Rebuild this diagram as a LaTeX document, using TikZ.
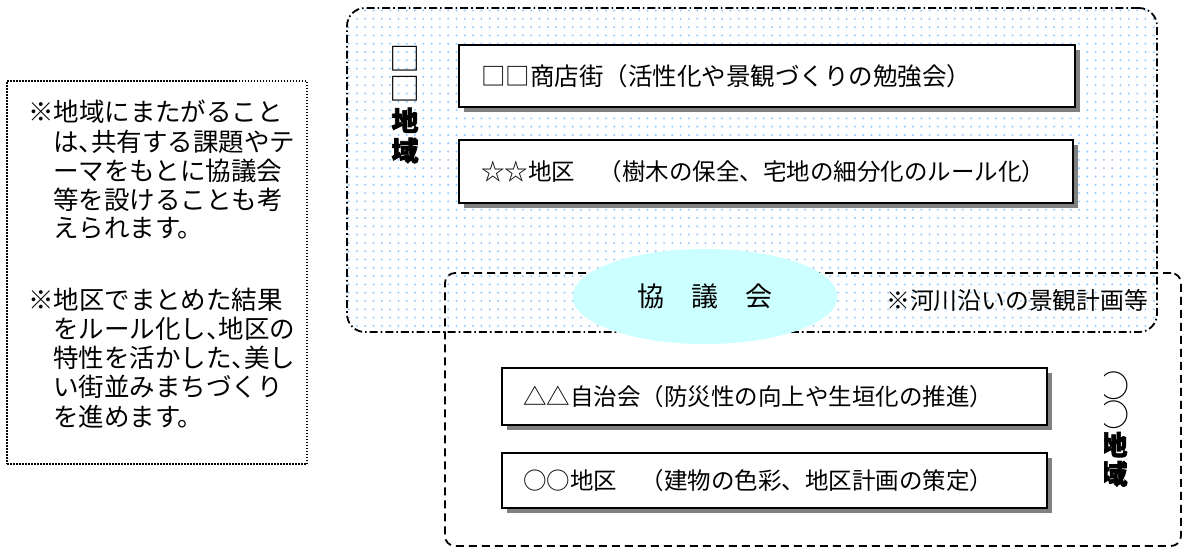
\documentclass[tikz,border=0pt]{standalone}
\usepackage{fontspec}
\newfontfamily\jp{Noto Sans CJK JP}
\newfontfamily\jpheavy[BoldFeatures={FakeBold=2.5}]{Noto Sans CJK JP}
\usetikzlibrary{patterns.meta,shadows,shapes.geometric}
\definecolor{dotblue}{RGB}{150,200,250}
\definecolor{ellfill}{RGB}{204,255,255}
\definecolor{shadowgray}{RGB}{128,128,128}
\newcommand\hten{\makebox[0.5em][l]{、}}
\newcommand\thinmark[1]{{\jp\mdseries\fontsize{31pt}{30pt}\selectfont #1}}
\begin{document}
\begin{tikzpicture}[x=1pt,y=-1pt,
  every node/.style={inner sep=0pt, outer sep=0pt},
  regA/.style={draw, line width=1.8pt, rounded corners=18pt,
    dash pattern=on 8pt off 3pt on 1.6pt off 3pt,
    pattern={Dots[distance=8.3pt,radius=1.1pt]}, pattern color=dotblue},
  regB/.style={draw, line width=1.8pt, rounded corners=10pt,
    dash pattern=on 8pt off 5pt},
  notebox/.style={draw, line width=2pt, dash pattern=on 1.5pt off 1.5pt},
  notetext/.style={anchor=west, font=\jp\fontsize{25.5pt}{29.5pt}\selectfont},
  box/.style={draw, line width=2pt, fill=white, anchor=north west, align=left,
    drop shadow={shadow xshift=5pt, shadow yshift=-5pt, fill=shadowgray, opacity=1}},
  boxfont/.style={font=\jp\fontsize{#1}{28pt}\selectfont},
  vlabel/.style={align=center, font=\jpheavy\bfseries\fontsize{27pt}{#1}\selectfont}
]
\useasboundingbox (0,0) rectangle (1184,550);

% regions
\node[regA, minimum width=810pt, minimum height=324pt] (regionA) at (752,170) {};
\node[regB, minimum width=736pt, minimum height=273pt] (regionB) at (813,409.5) {};

% note box
\node[notebox, minimum width=300pt, minimum height=383pt] (note) at (157,272.5) {};
\foreach \t/\xx/\yy [count=\i] in {
  {※地域にまたがること}/28/112,
  {は\hten 共有する課題やテ}/53/141.5,
  {ーマをもとに協議会}/53/170.5,
  {等を設けることも考}/53/199.5,
  {えられます。}/53/228.5,
  {※地区でまとめた結果}/28/300,
  {をルール化し\hten 地区の}/53/329,
  {特性を活かした\hten 美し}/53/358,
  {い街並みまちづくり}/53/387,
  {を進めます。}/53/417}
  \node[notetext] (n\i) at (\xx,\yy) {\t};

% ellipse
\node[ellipse, fill=ellfill, minimum width=265pt, minimum height=95pt,
  font=\jp\fontsize{27pt}{30pt}\selectfont] (kyo) at (705,296.5) {協　議　会};
\node[anchor=east, font=\jp\fontsize{23.8pt}{28pt}\selectfont] (river) at (1148,300) {※河川沿いの景観計画等};

% boxes
\node[box, boxfont=24.5pt, inner xsep=22pt, text width=572pt, minimum height=62pt] (b1) at (459,45)
  {□□商店街（活性化や景観づくりの勉強会）};
\node[box, boxfont=23.5pt, inner xsep=22pt, text width=570pt, minimum height=63pt] (b2) at (459,140)
  {☆☆地区　（樹木の保全、宅地の細分化のルール化）};
\node[box, boxfont=23.5pt, inner xsep=21pt, text width=503pt, minimum height=57pt] (b3) at (502,368)
  {△△自治会（防災性の向上や生垣化の推進）};
\node[box, boxfont=23.5pt, inner xsep=21pt, text width=503pt, minimum height=55pt] (b4) at (502,453)
  {○○地区　（建物の色彩、地区計画の策定）};

% vertical labels
\node[vlabel=30pt] (labA) at (405,105) {\thinmark{□}\\\thinmark{□}\\地\\域};
\begin{scope}
  \clip (1104,360) rectangle (1150,500);
  \node[vlabel=29pt] (labB) at (1114,429) {\thinmark{○}\\\thinmark{○}\\地\\域};
\end{scope}
\end{tikzpicture}
\end{document}
